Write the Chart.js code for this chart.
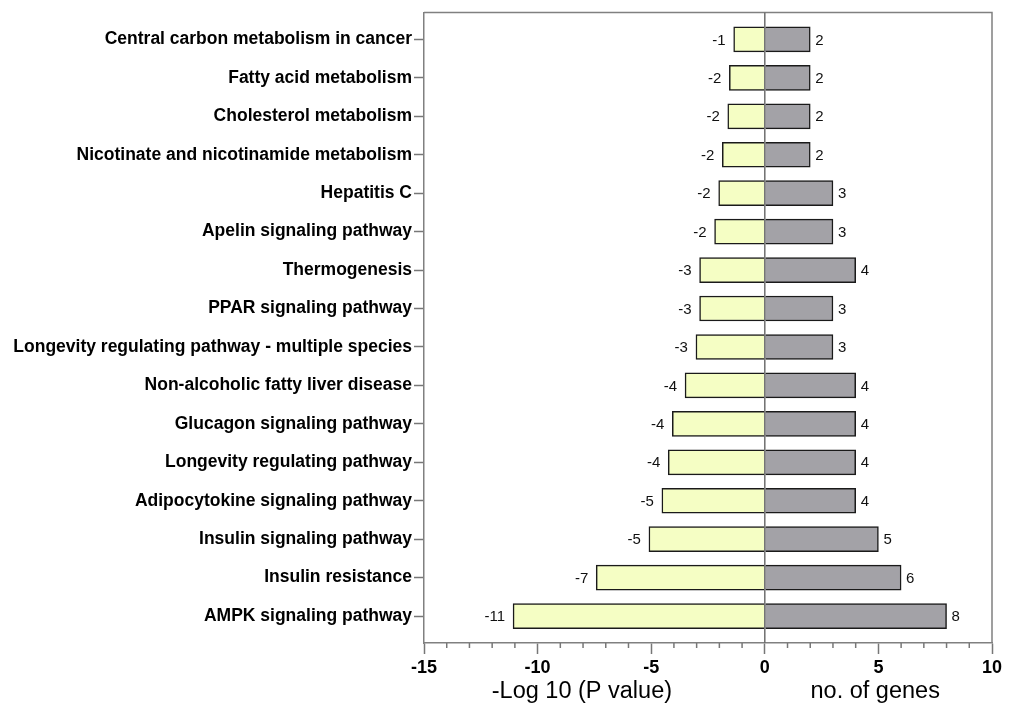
<!DOCTYPE html>
<html>
<head>
<meta charset="utf-8">
<script src="https://cdn.jsdelivr.net/npm/chart.js@4"></script>
<style>
  html, body { margin: 0; padding: 0; background: #fff; }
</style>
</head>
<body>
<canvas id="chart" width="1009" height="711"></canvas>
<script>
// KEGG pathways, top to bottom
const pathways = [
    'Central carbon metabolism in cancer',
    'Fatty acid metabolism',
    'Cholesterol metabolism',
    'Nicotinate and nicotinamide metabolism',
    'Hepatitis C',
    'Apelin signaling pathway',
    'Thermogenesis',
    'PPAR signaling pathway',
    'Longevity regulating pathway - multiple species',
    'Non-alcoholic fatty liver disease',
    'Glucagon signaling pathway',
    'Longevity regulating pathway',
    'Adipocytokine signaling pathway',
    'Insulin signaling pathway',
    'Insulin resistance',
    'AMPK signaling pathway'
];

// -log10(P), drawn to the left
const logP = [-1.37, -1.56, -1.63, -1.87, -2.03, -2.21, -2.87, -2.87, -3.03, -3.51, -4.07, -4.25, -4.53, -5.10, -7.42, -11.08];
const logPLabels = ['-1', '-2', '-2', '-2', '-2', '-2', '-3', '-3', '-3', '-4', '-4', '-4', '-5', '-5', '-7', '-11'];

// gene counts, drawn to the right
const geneCounts = [2, 2, 2, 2, 3, 3, 4, 3, 3, 4, 4, 4, 4, 5, 6, 8];

const xMin = -15;
const xMax = 10;

const FONT = '"Liberation Sans", Arial, sans-serif';
Chart.defaults.font.family = FONT;
Chart.defaults.color = '#000';

// frame, zero line, minor ticks, value labels and the two axis titles
const decorPlugin = {
    id: 'decor',
    beforeDraw(chart) {
        const c = chart.ctx;
        c.save();
        c.fillStyle = '#fff';
        c.fillRect(0, 0, chart.width, chart.height);
        c.restore();
    },
    afterDatasetsDraw(chart) {
        const c = chart.ctx;
        const area = chart.chartArea;
        const xs = chart.scales.x;
        c.save();

        // top and right frame
        c.strokeStyle = '#808080';
        c.lineWidth = 1.5;
        c.beginPath();
        c.moveTo(area.left, area.top);
        c.lineTo(area.right, area.top);
        c.lineTo(area.right, area.bottom);
        c.stroke();

        // zero line
        const x0 = xs.getPixelForValue(0);
        c.strokeStyle = '#6e6e6e';
        c.beginPath();
        c.moveTo(x0, area.top);
        c.lineTo(x0, area.bottom);
        c.stroke();

        // minor ticks on x
        c.strokeStyle = '#777';
        for (let v = xMin; v <= xMax; v++) {
            if (v % 5 === 0) continue;
            const px = xs.getPixelForValue(v);
            c.beginPath();
            c.moveTo(px, area.bottom);
            c.lineTo(px, area.bottom + 5);
            c.stroke();
        }

        // value labels
        c.fillStyle = '#111';
        c.font = '15px ' + FONT;
        c.textBaseline = 'middle';
        const left = chart.getDatasetMeta(0).data;
        const right = chart.getDatasetMeta(1).data;
        c.textAlign = 'right';
        left.forEach((bar, i) => c.fillText(logPLabels[i], bar.x - 8, bar.y + 1));
        c.textAlign = 'left';
        right.forEach((bar, i) => c.fillText(String(geneCounts[i]), bar.x + 5, bar.y + 1));

        // axis titles
        c.fillStyle = '#000';
        c.font = '23.5px ' + FONT;
        c.textAlign = 'center';
        c.fillText('-Log 10 (P value)', xs.getPixelForValue(-8.05), 692);
        c.fillText('no. of genes', xs.getPixelForValue(4.86), 692);

        c.restore();
    }
};

const ctx = document.getElementById('chart').getContext('2d');
const chart = new Chart(ctx, {
    type: 'bar',
    data: {
        datasets: [
            {
                label: '-Log 10 (P value)',
                data: logP.map((v, i) => ({ x: v, y: i })),
                backgroundColor: '#f5fec4',
                borderColor: '#1a1a1a',
                borderWidth: 1.5,
                barThickness: 25,
                grouped: false
            },
            {
                label: 'no. of genes',
                data: geneCounts.map((v, i) => ({ x: v, y: i })),
                backgroundColor: '#a3a2a7',
                borderColor: '#1a1a1a',
                borderWidth: 1.5,
                barThickness: 25,
                grouped: false
            }
        ]
    },
    options: {
        indexAxis: 'y',
        responsive: false,
        animation: false,
        layout: { padding: { top: 10, right: 17, left: 0, bottom: 0 } },
        plugins: {
            legend: { display: false },
            tooltip: { enabled: false }
        },
        scales: {
            x: {
                type: 'linear',
                min: xMin,
                max: xMax,
                ticks: {
                    stepSize: 1,
                    autoSkip: false,
                    maxRotation: 0,
                    padding: 3,
                    color: '#000',
                    font: { size: 18, weight: 'bold' },
                    callback: v => (v % 5 === 0 ? String(v) : '')
                },
                grid: {
                    drawOnChartArea: false,
                    tickLength: 11,
                    tickWidth: 1.5,
                    tickColor: c => (c.tick && c.tick.value % 5 === 0 ? '#777' : 'rgba(0,0,0,0)')
                },
                border: { display: true, color: '#808080', width: 1.5 },
                afterFit: s => { s.height = 68; }
            },
            y: {
                type: 'linear',
                reverse: true,
                offset: false,
                min: -0.7,
                max: 15.7,
                afterBuildTicks: s => { s.ticks = pathways.map((p, i) => ({ value: i })); },
                ticks: {
                    autoSkip: false,
                    padding: 2,
                    color: '#000',
                    font: { size: 17.5, weight: 'bold' },
                    callback: v => pathways[v]
                },
                grid: {
                    offset: false,
                    drawOnChartArea: false,
                    tickLength: 10,
                    tickWidth: 1.5,
                    tickColor: '#777'
                },
                border: { display: true, color: '#808080', width: 1.5 },
                afterFit: s => { s.width = 424; }
            }
        }
    },
    plugins: [decorPlugin]
});
</script>
</body>
</html>
